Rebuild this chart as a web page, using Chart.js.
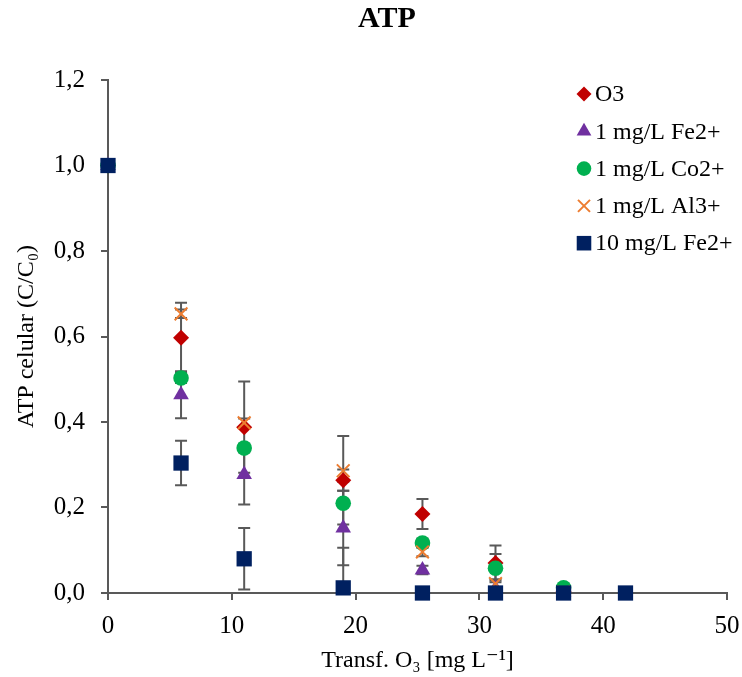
<!DOCTYPE html>
<html>
<head>
<meta charset="utf-8">
<script src="https://cdn.jsdelivr.net/npm/chart.js@4.4.0/dist/chart.umd.min.js"></script>
<style>
html, body { margin: 0; padding: 0; background: #fff; }
</style>
</head>
<body>
<canvas id="atpChart" width="742" height="677"></canvas>
<script>
// ozone transferred (x) and ATP ratio per series
const doses = [0, 5.9, 11, 19, 25.4, 31.3, 36.8, 41.8];
const seriesNames = ['O3', '1 mg/L Fe2+', '1 mg/L Co2+', '1 mg/L Al3+', '10 mg/L Fe2+'];

const o3Vals   = [1.0, 0.597, 0.388, 0.264, 0.185, 0.070, 0.003, null];
const fe1Vals  = [1.0, 0.464, 0.277, 0.152, 0.054, 0.010, 0.002, null];
const co1Vals  = [1.0, 0.503, 0.339, 0.210, 0.117, 0.058, 0.012, null];
const al1Vals  = [1.0, 0.653, 0.398, 0.286, 0.096, 0.022, 0.002, null];
const fe10Vals = [1.0, 0.304, 0.080, 0.012, 0.0, 0.0, 0.0, 0.0];

// error bar half widths (same units)
const o3Err   = [0, 0.082, 0.107, 0.025, 0.035, 0.041, 0, null];
const fe1Err  = [0, 0.055, 0.070, 0.087, 0.010, 0, 0, null];
const co1Err  = [0, 0.012, 0.010, 0.050, 0.010, 0.033, 0, null];
const al1Err  = [0, 0.010, 0.010, 0.081, 0.010, 0.010, 0, null];
const fe10Err = [0, 0.052, 0.072, 0.094, 0, 0, 0, 0];

const yTicks = [0, 0.2, 0.4, 0.6, 0.8, 1.0, 1.2];
const xTicks = [0, 10, 20, 30, 40, 50];

const serif = "'Liberation Serif', 'Times New Roman', 'DejaVu Serif', serif";

const allVals = [o3Vals, fe1Vals, co1Vals, al1Vals, fe10Vals];
const allErr = [o3Err, fe1Err, co1Err, al1Err, fe10Err];
const colors = ['#C00000', '#7030A0', '#00B050', '#ED7D31', '#002060'];
const styles = ['rectRot', 'triangle', 'circle', 'crossRot', 'rect'];
const radii = [8, 9, 7.8, 9, 10.8];

function toPoints(vals) {
    const pts = [];
    vals.forEach((v, i) => {
        if (v !== null) pts.push({ x: doses[i], y: v });
    });
    return pts;
}

const datasets = seriesNames.map((name, i) => ({
    label: name,
    data: toPoints(allVals[i]),
    pointStyle: styles[i],
    pointRadius: radii[i],
    pointHoverRadius: radii[i],
    backgroundColor: colors[i],
    borderColor: colors[i],
    borderWidth: styles[i] === 'crossRot' ? 2 : 0,
    showLine: false,
    clip: false,
    order: seriesNames.length - i
}));

const errorBars = {
    id: 'errorBars',
    beforeDatasetsDraw(chart) {
        const ctx = chart.ctx;
        const xs = chart.scales.x, ys = chart.scales.y, area = chart.chartArea;
        ctx.save();
        ctx.beginPath();
        ctx.rect(area.left - 10, area.top - 5, area.right - area.left + 20, area.bottom - area.top + 5);
        ctx.clip();
        ctx.strokeStyle = '#595959';
        ctx.lineWidth = 2;
        allVals.forEach((vals, s) => {
            vals.forEach((v, i) => {
                const e = allErr[s][i];
                if (v === null || !e) return;
                const px = xs.getPixelForValue(doses[i]);
                const top = ys.getPixelForValue(v + e);
                const bot = ys.getPixelForValue(v - e);
                ctx.beginPath();
                ctx.moveTo(px, top); ctx.lineTo(px, bot);
                ctx.moveTo(px - 6, top); ctx.lineTo(px + 6, top);
                ctx.moveTo(px - 6, bot); ctx.lineTo(px + 6, bot);
                ctx.stroke();
            });
        });
        ctx.restore();
    }
};

const titleAndLegend = {
    id: 'titleAndLegend',
    afterDraw(chart) {
        const ctx = chart.ctx;
        ctx.save();
        // chart title
        ctx.fillStyle = '#000';
        ctx.font = 'bold 30px ' + serif;
        ctx.textAlign = 'center';
        ctx.textBaseline = 'middle';
        ctx.fillText('ATP', 387, 19);

        // legend inside the plot, top right
        ctx.font = '24px ' + serif;
        ctx.textAlign = 'left';
        chart.data.datasets.forEach((ds, i) => {
            const y = 94 + i * 37.3;
            ctx.fillStyle = ds.backgroundColor;
            ctx.strokeStyle = ds.borderColor;
            ctx.lineWidth = ds.borderWidth;
            Chart.helpers.drawPoint(ctx, {
                pointStyle: ds.pointStyle,
                radius: ds.pointRadius - 0.5,
                rotation: 0,
                borderWidth: ds.borderWidth
            }, 584, y);
            ctx.fillStyle = '#000';
            ctx.fillText(ds.label, 595, y + 1);
        });
        ctx.restore();
    }
};

const ctx = document.getElementById('atpChart').getContext('2d');
new Chart(ctx, {
    type: 'scatter',
    data: { datasets: datasets },
    options: {
        responsive: false,
        animation: false,
        events: [],
        layout: { padding: { top: 80, right: 15, bottom: 0, left: 0 } },
        plugins: {
            legend: { display: false },
            title: { display: false },
            tooltip: { enabled: false }
        },
        scales: {
            x: {
                type: 'linear',
                min: 0,
                max: 50,
                afterBuildTicks: axis => { axis.ticks = xTicks.map(v => ({ value: v })); },
                afterFit: axis => {
                    axis.height = 84;
                    axis.paddingLeft = 0;
                    axis.paddingRight = 14;
                },
                grid: { drawOnChartArea: false, drawTicks: true, tickLength: 7, color: '#595959', lineWidth: 2 },
                border: { color: '#595959', width: 2 },
                ticks: { color: '#000', font: { family: serif, size: 25 }, padding: 11, maxRotation: 0 },
                title: {
                    display: true,
                    text: 'Transf. O₃ [mg L⁻¹]',
                    color: '#000',
                    font: { family: serif, size: 24 },
                    padding: { top: 0, bottom: 2 }
                }
            },
            y: {
                type: 'linear',
                min: 0,
                max: 1.2,
                afterBuildTicks: axis => { axis.ticks = yTicks.map(v => ({ value: v })); },
                afterFit: axis => { axis.width = 108; },
                grid: { drawOnChartArea: false, drawTicks: true, tickLength: 7, color: '#595959', lineWidth: 2 },
                border: { color: '#595959', width: 2 },
                ticks: {
                    color: '#000',
                    font: { family: serif, size: 25 },
                    padding: 16,
                    callback: v => v.toFixed(1).replace('.', ',')
                },
                title: {
                    display: true,
                    text: 'ATP celular (C/C₀)',
                    color: '#000',
                    font: { family: serif, size: 24 },
                    padding: { top: 12, bottom: 0 }
                }
            }
        }
    },
    plugins: [errorBars, titleAndLegend]
});
</script>
</body>
</html>
